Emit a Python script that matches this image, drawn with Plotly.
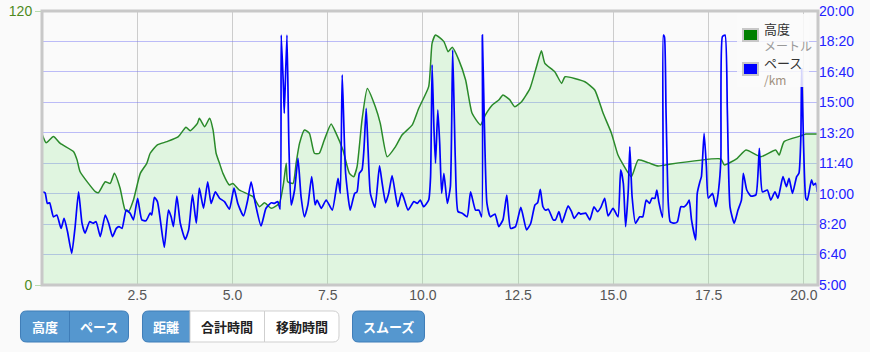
import plotly.graph_objects as go

# ---------------- data ----------------
elev_km = [0.0, 0.11, 0.30, 0.48, 0.83, 0.92, 1.00, 1.40, 1.48, 1.66, 1.79, 1.90, 2.05, 2.18, 2.27,
           2.40, 2.58, 2.75, 2.84, 3.02, 3.28, 3.58, 3.78, 3.89, 4.08, 4.13, 4.27, 4.40, 4.49, 4.57,
           4.66, 4.75, 4.92, 5.01, 5.18, 5.54, 5.71, 5.84, 6.02, 6.23, 6.34, 6.41, 6.45, 6.59, 6.67,
           6.76, 6.89, 7.02, 7.15, 7.28, 7.41, 7.59, 7.72, 7.90, 8.07, 8.18, 8.27, 8.40, 8.54, 8.75,
           8.88, 9.06, 9.28, 9.45, 9.72, 9.89, 10.15, 10.24, 10.33, 10.55, 10.66, 10.77, 10.94, 11.12,
           11.29, 11.51, 11.64, 11.82, 11.99, 12.10, 12.27, 12.41, 12.59, 12.81, 12.98, 13.11, 13.20,
           13.46, 13.64, 13.73, 14.25, 14.51, 14.73, 14.95, 15.12, 15.26, 15.47, 15.65, 15.91, 16.17,
           16.36, 17.82, 17.91, 18.25, 18.48, 18.87, 19.26, 19.35, 19.48, 19.92, 20.05, 20.37]
elev_m = [66.1, 62.3, 65.0, 62.0, 58.4, 54.8, 49.6, 40.9, 40.4, 45.2, 44.5, 48.9, 42.4, 32.9, 32.1,
          37.2, 48.9, 53.3, 57.7, 61.3, 62.8, 65.0, 69.1, 67.6, 70.8, 73.0, 69.3, 73.0, 67.9, 57.7,
          53.3, 48.9, 43.8, 44.5, 41.6, 38.7, 34.3, 36.0, 33.6, 35.8, 44.5, 53.3, 45.2, 44.5, 53.3,
          62.0, 67.9, 66.4, 57.7, 57.7, 63.5, 70.5, 66.4, 59.1, 48.9, 47.4, 51.8, 72.3, 86.1, 78.1,
          70.8, 56.2, 60.6, 65.7, 70.1, 77.4, 86.9, 105.9, 109.5, 106.6, 102.2, 104.1, 98.6, 89.8,
          75.2, 70.1, 74.5, 78.8, 81.0, 83.2, 81.3, 78.1, 80.3, 86.1, 95.6, 102.6, 97.1,
          93.4, 88.3, 91.2, 89.0, 85.4, 75.2, 66.4, 56.9, 52.6, 47.4, 54.8, 53.6, 52.1,
          52.6, 55.2, 52.6, 55.5, 59.1, 56.2, 59.1, 56.9, 62.8, 65.3, 66.1, 66.1]

pace_km = [0.00, 0.08, 0.14, 0.20, 0.30, 0.39, 0.50, 0.58, 0.67, 0.78, 0.87, 0.96, 1.05, 1.13, 1.25,
           1.34, 1.42, 1.53, 1.66, 1.75, 1.85, 1.95, 2.02, 2.10, 2.21, 2.31, 2.40, 2.51, 2.62, 2.73,
           2.84, 2.88, 2.95, 3.03, 3.10, 3.21, 3.32, 3.39, 3.45, 3.54, 3.63, 3.76, 3.85, 3.95, 4.05,
           4.13, 4.24, 4.35, 4.44, 4.55, 4.66, 4.79, 4.92, 5.04, 5.14, 5.29, 5.40, 5.49, 5.60, 5.75,
           5.88, 6.02, 6.10, 6.19, 6.25, 6.28, 6.34, 6.36, 6.43, 6.48, 6.54, 6.63, 6.72, 6.80, 6.89,
           6.98, 7.08, 7.17, 7.22, 7.33, 7.46, 7.62, 7.77, 7.83, 7.88, 7.97, 8.09, 8.16, 8.21, 8.27,
           8.33, 8.40, 8.45, 8.51, 8.56, 8.62, 8.74, 8.86, 8.93, 9.02, 9.10, 9.19, 9.28, 9.34, 9.44,
           9.50, 9.61, 9.76, 9.85, 9.93, 10.02, 10.15, 10.20, 10.24, 10.29, 10.33, 10.39, 10.44, 10.49,
           10.55, 10.64, 10.72, 10.78, 10.85, 10.92, 11.03, 11.16, 11.25, 11.38, 11.47, 11.54, 11.56,
           11.61, 11.68, 11.77, 11.89, 11.99, 12.10, 12.20, 12.30, 12.43, 12.57, 12.72, 12.83, 12.94,
           13.01, 13.08, 13.15, 13.22, 13.29, 13.42, 13.48, 13.57, 13.65, 13.81, 13.90, 13.97, 14.09,
           14.14, 14.27, 14.38, 14.49, 14.58, 14.67, 14.77, 14.86, 14.99, 15.12, 15.19, 15.26, 15.32,
           15.39, 15.43, 15.49, 15.58, 15.69, 15.77, 15.86, 15.95, 16.01, 16.09, 16.14, 16.19, 16.29,
           16.31, 16.34, 16.38, 16.44, 16.49, 16.59, 16.68, 16.77, 16.86, 16.94, 16.99, 17.05, 17.16,
           17.20, 17.27, 17.31, 17.38, 17.44, 17.49, 17.60, 17.69, 17.76, 17.82, 17.86, 17.93, 17.99,
           18.06, 18.17, 18.27, 18.36, 18.41, 18.50, 18.61, 18.74, 18.83, 18.91, 19.04, 19.13, 19.24,
           19.32, 19.45, 19.54, 19.61, 19.70, 19.81, 19.87, 19.92, 19.94, 19.99, 20.05, 20.09, 20.20,
           20.25, 20.31, 20.35]
pace_s = [606, 603, 568, 570, 524, 530, 486, 519, 475, 404, 492, 606, 503, 470, 508,
          503, 508, 459, 530, 503, 459, 486, 492, 486, 546, 536, 514, 585, 514, 511,
          536, 530, 588, 574, 519, 424, 546, 524, 492, 592, 503, 450, 481, 596, 503,
          618, 552, 639, 568, 606, 585, 574, 549, 618, 568, 527, 579, 639, 568, 494,
          552, 570, 568, 574, 549, 1121, 941, 864, 1121, 765, 563, 612, 716, 590, 524,
          563, 656, 563, 579, 552, 579, 546, 650, 601, 990, 667, 546, 580, 601, 606,
          667, 678, 743, 880, 743, 601, 555, 691, 634, 570, 601, 659, 596, 557, 603,
          585, 546, 574, 568, 579, 557, 579, 656, 1023, 809, 700, 875, 765, 601,
          667, 568, 623, 1072, 711, 541, 536, 524, 606, 546, 546, 524, 1121,
          842, 568, 524, 533, 492, 514, 595, 486, 492, 555, 481, 503, 563,
          570, 614, 557, 546, 549, 514, 514, 541, 505, 560, 541, 519, 538,
          533, 536, 514, 557, 541, 555, 585, 527, 552, 524, 678, 634, 492,
          612, 754, 590, 503, 524, 524, 579, 568, 585, 585, 612, 574, 522,
          1121, 1115, 875, 568, 508, 503, 508, 557, 557, 568, 579, 514, 448,
          601, 639, 656, 798, 689, 585, 601, 557, 612, 711, 1116, 1121, 875,
          557, 503, 546, 579, 667, 612, 592, 596, 749, 606, 612, 579, 606,
          585, 656, 623, 650, 601, 656, 667, 787, 1010, 765, 585, 579, 645,
          628, 634, 606]

x_tick_vals = [2.5, 5.0, 7.5, 10.0, 12.5, 15.0, 17.5, 20.0]
x_tick_text = ["2.5", "5.0", "7.5", "10.0", "12.5", "15.0", "17.5", "20.0"]
pace_tick_vals = [300, 400, 500, 600, 700, 800, 900, 1000, 1100, 1200]
pace_tick_text = ["5:00", "6:40", "8:20", "10:00", "11:40", "13:20", "15:00", "16:40", "18:20", "20:00"]
elev_tick_vals = [0, 120]

legend_names = ["高度", "ペース"]
legend_units = ["メートル", "/km"]
legend_colors = ["#008000", "#0000ff"]
legend_unit_colors = ["#999999", "#a0907f"]

btn_group1 = ["高度", "ペース"]
btn_group2 = ["距離", "合計時間", "移動時間"]
btn_group3 = ["スムーズ"]

# ---------------- geometry helpers (pixels -> paper) ----------------
W, H = 870, 352
L, R, T, B = 42, 818, 11, 285


def fx(p):
    return (p - L) / (R - L)


def fy(p):
    return (B - p) / (B - T)


def rrect(x0, y0, x1, y1, rl, rr):
    pts = []
    pts.append("M %.5f,%.5f" % (fx(x0 + rl), fy(y0)))
    pts.append("L %.5f,%.5f" % (fx(x1 - rr), fy(y0)))
    pts.append("Q %.5f,%.5f %.5f,%.5f" % (fx(x1), fy(y0), fx(x1), fy(y0 + rr)))
    pts.append("L %.5f,%.5f" % (fx(x1), fy(y1 - rr)))
    pts.append("Q %.5f,%.5f %.5f,%.5f" % (fx(x1), fy(y1), fx(x1 - rr), fy(y1)))
    pts.append("L %.5f,%.5f" % (fx(x0 + rl), fy(y1)))
    pts.append("Q %.5f,%.5f %.5f,%.5f" % (fx(x0), fy(y1), fx(x0), fy(y1 - rl)))
    pts.append("L %.5f,%.5f" % (fx(x0), fy(y0 + rl)))
    pts.append("Q %.5f,%.5f %.5f,%.5f" % (fx(x0), fy(y0), fx(x0 + rl), fy(y0)))
    pts.append("Z")
    return " ".join(pts)


fig = go.Figure()

fig.add_trace(go.Scatter(
    x=elev_km, y=elev_m, mode="lines", name=legend_names[0],
    line=dict(color="#2a8a2a", width=1.5, shape="spline", smoothing=0.5),
    fill="tozeroy", fillcolor="rgba(150,232,150,0.26)", yaxis="y",
))
fig.add_trace(go.Scatter(
    x=pace_km, y=pace_s, mode="lines", name=legend_names[1],
    line=dict(color="#0000ff", width=1.7, shape="spline", smoothing=0.5),
    yaxis="y2",
))

tick_font = dict(family="Liberation Sans, Arial, sans-serif", size=14)
cjk = "Noto Sans CJK JP, sans-serif"

fig.update_layout(
    width=W, height=H,
    margin=dict(l=L, r=W - R, t=T, b=H - B, autoexpand=False),
    paper_bgcolor="#fafafa", plot_bgcolor="#fafafa",
    showlegend=False,
    xaxis=dict(range=[0, 20.37], tickvals=x_tick_vals, ticktext=x_tick_text, automargin=False,
               showgrid=True, gridcolor="#cccccc", gridwidth=1, zeroline=False,
               showline=False, ticks="", tickfont=dict(color="#555555", **tick_font)),
    yaxis=dict(range=[0, 120], tickvals=elev_tick_vals, showgrid=False, zeroline=False,
               automargin=False, ticks="outside", ticklen=6, tickcolor="#b8dcb0",
               tickfont=dict(color="#4e8a1e", **tick_font)),
    yaxis2=dict(range=[300, 1200], tickvals=pace_tick_vals, ticktext=pace_tick_text,
                overlaying="y", side="right", showgrid=True, automargin=False,
                gridcolor="rgba(110,110,245,0.45)", gridwidth=1, zeroline=False,
                ticks="", tickfont=dict(color="#2222ff", **tick_font)),
)

shapes = []
# plot frame
shapes.append(dict(type="rect", xref="paper", yref="paper", x0=0, x1=1, y0=0, y1=1,
                   line=dict(color="#c8c8c8", width=3), fillcolor="rgba(0,0,0,0)", layer="above"))
# legend background
shapes.append(dict(type="rect", xref="paper", yref="paper", x0=fx(737), x1=fx(809),
                   y0=fy(87), y1=fy(14), line=dict(width=0),
                   fillcolor="rgba(250,250,250,0.85)", layer="above"))
ann = []
leg_rows = [(29, 41), (63, 75)]
for i, (t0, t1) in enumerate(leg_rows):
    shapes.append(dict(type="rect", xref="paper", yref="paper", x0=fx(743), x1=fx(758),
                       y0=fy(t1), y1=fy(t0), line=dict(color="#c8c8c8", width=2),
                       fillcolor=legend_colors[i], layer="above"))
    txt = "%s<br><span style='color:%s;font-size:12px'>%s</span>" % (
        legend_names[i], legend_unit_colors[i], legend_units[i])
    ann.append(dict(xref="paper", yref="paper", x=fx(762), y=fy(t0 - 12), xanchor="left",
                    yanchor="top", text=txt, showarrow=False, align="left",
                    font=dict(family=cjk, size=13, color="#333333")))

# buttons
BLUE = "#5597cf"
BLUE_LINE = "#3f7db8"
by0, by1 = 311, 342
groups = [
    (btn_group1, [20.5, 69.5, 128.5], [True, True]),
    (btn_group2, [142.5, 190, 264.5, 339], [True, False, False]),
    (btn_group3, [352.5, 424.5], [True]),
]
for labels, edges, actives in groups:
    n = len(labels)
    for k in range(n):
        x0, x1 = edges[k], edges[k + 1]
        rl = 6 if k == 0 else 0
        rr = 6 if k == n - 1 else 0
        active = actives[k]
        shapes.append(dict(type="path", xref="paper", yref="paper",
                           path=rrect(x0, by0, x1, by1, rl, rr),
                           fillcolor=BLUE if active else "#ffffff",
                           line=dict(color=BLUE_LINE if active else "#cfcfcf", width=1),
                           layer="above"))
        ann.append(dict(xref="paper", yref="paper", x=fx((x0 + x1) / 2), y=fy((by0 + by1) / 2),
                        xanchor="center", yanchor="middle", text=labels[k], showarrow=False,
                        font=dict(family=cjk, size=13, color="#ffffff" if active else "#222222",
                                  weight="bold")))

fig.update_layout(shapes=shapes, annotations=ann)

fig.write_html("out.html", config={"displayModeBar": False})
